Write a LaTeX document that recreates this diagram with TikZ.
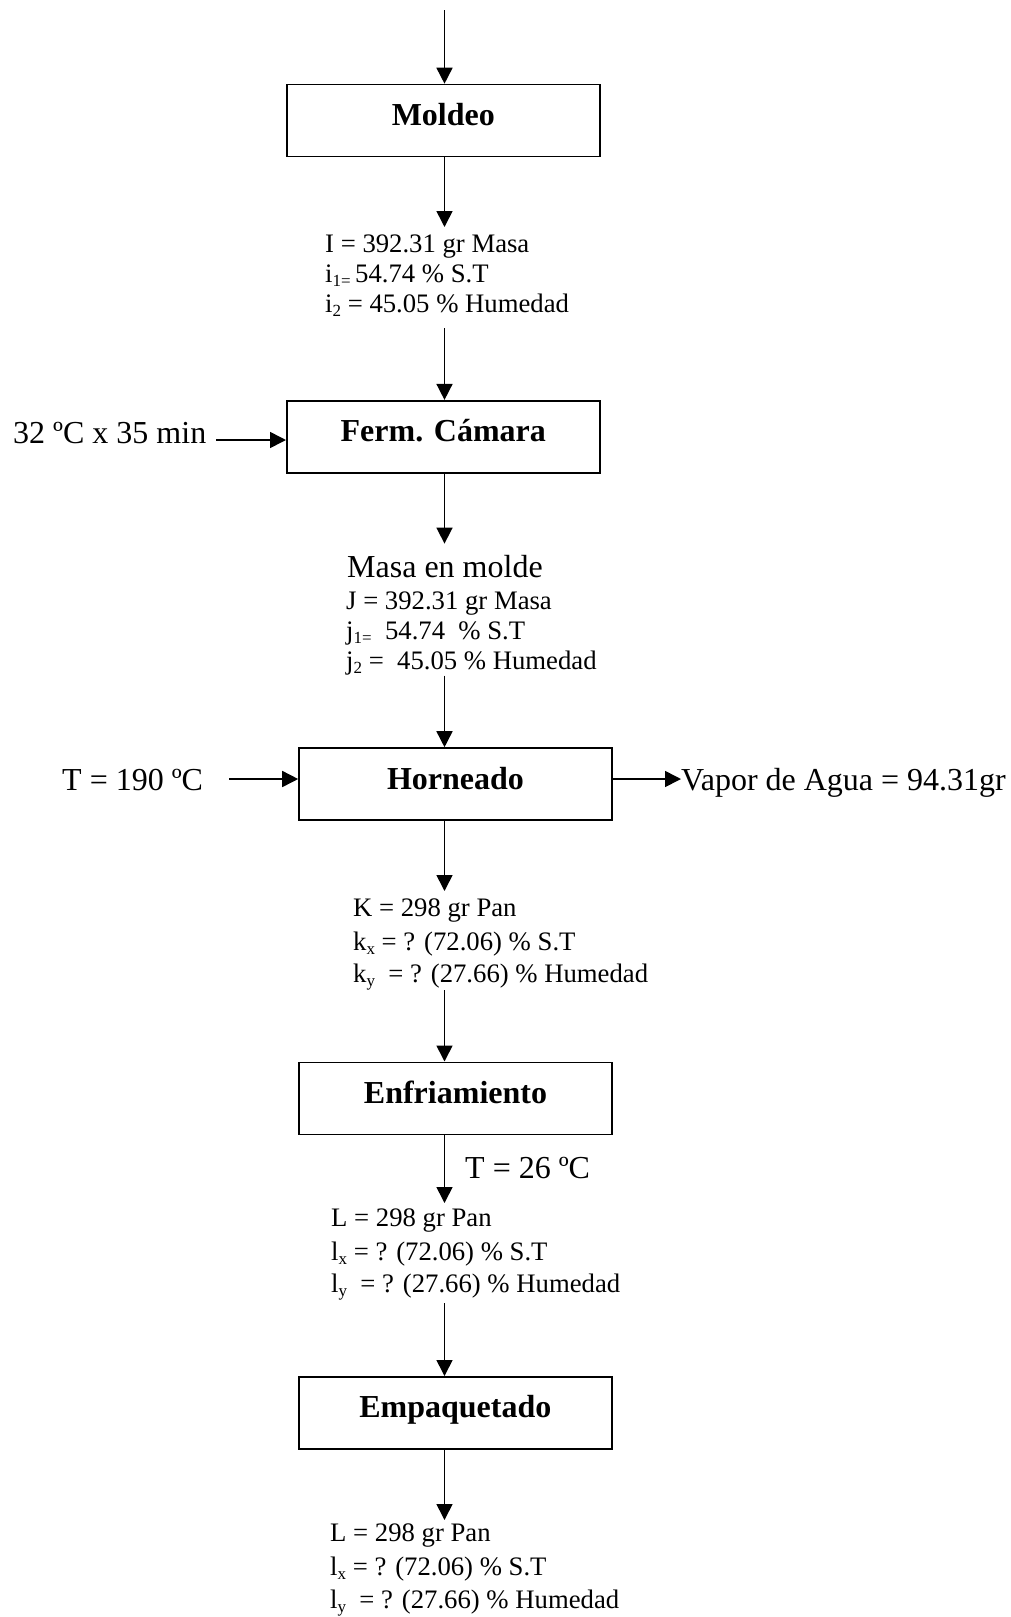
\documentclass[tikz,border=0pt]{standalone}
\usepackage{fontspec}
\setmainfont{Liberation Serif}
\usetikzlibrary{arrows.meta}
\newcommand\lsub[1]{\raisebox{-0.35ex}{\fontsize{17}{17}\selectfont #1}}
\begin{document}
\begin{tikzpicture}[x=1pt, y=-1pt,
  stage/.style={draw, line width=1.6pt, minimum width=313pt, minimum height=72pt,
    inner sep=0pt, font=\fontsize{32}{36}\selectfont\bfseries,
    text height=22pt, text depth=12pt},
  data/.style={anchor=base west, inner sep=0pt, font=\fontsize{26.7}{30}\selectfont},
  big/.style={anchor=base west, inner sep=0pt, font=\fontsize{32}{36}\selectfont},
  flow/.style={line width=1.6pt, -{Triangle[length=16pt,width=16pt]}}]
\useasboundingbox (0,0) rectangle (1011,1617);

% process stages
\node[stage] (moldeo) at (443.3,120.5) {Moldeo};
\node[stage] (ferm)   at (443.3,436.7) {Ferm. Cámara};
\node[stage] (horno)  at (455.5,784)   {Horneado};
\node[stage] (enfr)   at (455.5,1098.3){Enfriamiento};
\node[stage] (empaq)  at (455.3,1412.8){Empaquetado};

% main flow line
\coordinate (ax) at (444.5,0);
\coordinate (in0) at (444.5,10);
\coordinate (tI) at (444.5,227);   \coordinate (fI) at (444.5,328);
\coordinate (tJ) at (444.5,543.6); \coordinate (fJ) at (444.5,675.7);
\coordinate (tK) at (444.5,891);   \coordinate (fK) at (444.5,990);
\coordinate (tL) at (444.5,1203);  \coordinate (fL) at (444.5,1303);
\coordinate (tM) at (444.5,1520);

% stream data
\node[data] (I1) at (325,252) {I = 392.31 gr Masa};
\node[data] (I2) at (325,282) {i\lsub{1=}\,54.74 \% S.T};
\node[data] (I3) at (325,312) {i\lsub{2} = 45.05 \% Humedad};

\node[big]  (J0) at (347,577) {Masa en molde};
\node[data] (J1) at (346,609) {J = 392.31 gr Masa};
\node[data] (J2) at (346,639) {j\lsub{1=}\ \ 54.74 \ \% S.T};
\node[data] (J3) at (346,669) {j\lsub{2} =\ \ 45.05 \% Humedad};

\node[data] (K1) at (353,916) {K = 298 gr Pan};
\node[data] (K2) at (353,950) {k\lsub{x} = ? (72.06) \% S.T};
\node[data] (K3) at (353,982) {k\lsub{y} \ = ? (27.66) \% Humedad};

\node[data] (L1) at (331,1226) {L = 298 gr Pan};
\node[data] (L2) at (331,1260) {l\lsub{x} = ? (72.06) \% S.T};
\node[data] (L3) at (331,1292) {l\lsub{y} \ = ? (27.66) \% Humedad};

\node[data] (M1) at (330,1541) {L = 298 gr Pan};
\node[data] (M2) at (330,1575) {l\lsub{x} = ? (72.06) \% S.T};
\node[data] (M3) at (330,1608) {l\lsub{y} \ = ? (27.66) \% Humedad};

% side streams
\node[big] (fcond) at (13,443)  {32 ºC x 35 min};
\node[big] (hcond) at (62,790)  {T = 190 ºC};
\node[big] (vapor) at (681,790) {Vapor de Agua = 94.31gr};
\node[big] (ecool) at (465,1178){T = 26 ºC};
\coordinate (fin)  at (216,440);
\coordinate (hin)  at (229,779);

% connectors
\draw[flow] (in0) -- (moldeo.north -| ax);
\draw[flow] (moldeo.south -| ax) -- (tI);
\draw[flow] (fI) -- (ferm.north -| ax);
\draw[flow] (ferm.south -| ax) -- (tJ);
\draw[flow] (fJ) -- (horno.north -| ax);
\draw[flow] (horno.south -| ax) -- (tK);
\draw[flow] (fK) -- (enfr.north -| ax);
\draw[flow] (enfr.south -| ax) -- (tL);
\draw[flow] (fL) -- (empaq.north -| ax);
\draw[flow] (empaq.south -| ax) -- (tM);

\draw[flow] (fin) -- (fin -| ferm.west);
\draw[flow] (hin) -- (hin -| horno.west);
\draw[flow] (hin -| horno.east) -- (hin -| vapor.west);
\end{tikzpicture}
\end{document}
